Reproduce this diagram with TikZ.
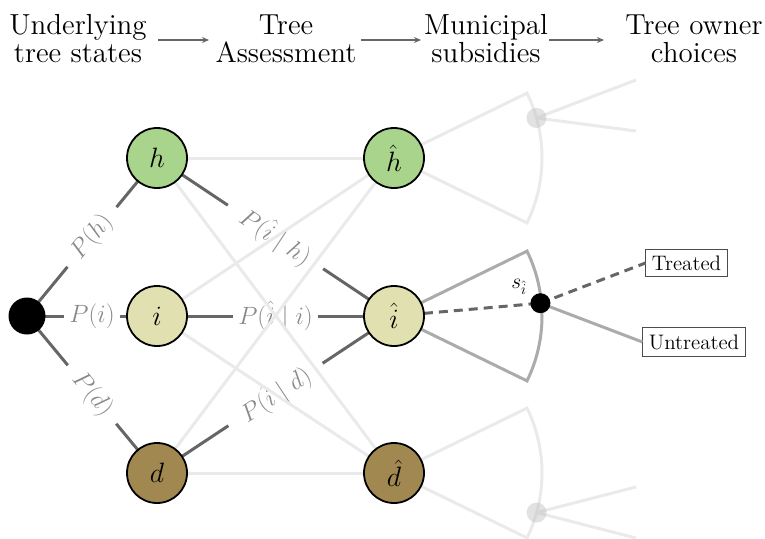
\documentclass[tikz,border=0pt]{standalone}
\usepackage{fix-cm}
\usepackage{fontspec}
\setmainfont{lmroman12-regular.otf}
\usetikzlibrary{calc,arrows.meta}
\definecolor{cH}{HTML}{A8D48C}
\definecolor{cI}{HTML}{E0E0B0}
\definecolor{cD}{HTML}{A08850}
\definecolor{dark}{HTML}{666666}
\definecolor{light}{HTML}{EAEAEA}
\definecolor{mid}{HTML}{ABABAB}
\definecolor{labgray}{HTML}{8A8A8A}
\tikzset{
  head/.style={align=center,font=\fontsize{29}{28}\selectfont},
  harrow/.style={-{Stealth[length=7pt,width=6pt]},draw=dark,line width=1.6pt},
  state/.style={circle,draw=black,line width=1.8pt,minimum size=60pt,inner sep=0pt,font=\fontsize{28}{28}\selectfont},
  darkedge/.style={draw=dark,line width=3pt},
  lightedge/.style={draw=light,line width=3pt},
  midedge/.style={draw=mid,line width=3pt},
  plab/.style={sloped,fill=white,text=labgray,inner xsep=5pt,inner ysep=3pt,font=\fontsize{25}{25}\selectfont},
  diaglab/.style={plab,inner xsep=13pt},
  diaglabw/.style={plab,inner xsep=17pt},
  choice/.style={draw=black!70,line width=1pt,inner xsep=6pt,inner ysep=6.5pt,font=\fontsize{21}{21}\selectfont},
}
\begin{document}
\begin{tikzpicture}[x=1pt,y=-1pt]
\useasboundingbox (0,0) rectangle (765,538);
% headers
\node[head] (H1) at (78,39) {Underlying\\tree states};
\node[head] (H2) at (286,39) {Tree\\Assessment};
\node[head] (H3) at (486,39) {Municipal\\subsidies};
\node[head] (H4) at (694,39) {Tree owner\\choices};
\coordinate (a1s) at (158,40); \coordinate (a1e) at (209,40);
\coordinate (a2s) at (361,40); \coordinate (a2e) at (421,40);
\coordinate (a3s) at (549,40); \coordinate (a3e) at (604,40);
\draw[harrow] (a1s) -- (a1e);
\draw[harrow] (a2s) -- (a2e);
\draw[harrow] (a3s) -- (a3e);
% node positions
\coordinate (root) at (27,316);
\coordinate (ph) at (157,158);
\coordinate (pi) at (157,316);
\coordinate (pd) at (157,473);
\coordinate (qh) at (394,158);
\coordinate (qi) at (394,316);
\coordinate (qd) at (394,473);
% fans (top and bottom, light)
\coordinate (tu) at ($(qh)+(-26:148)$);
\coordinate (tdot) at ($(qh)+(-15.7:148)$);
\coordinate (te1) at (636,80);
\coordinate (te2) at (636,131);
\draw[lightedge] (qh) -- (tu) arc[start angle=-26,end angle=26,radius=148] -- (qh);
\draw[lightedge] (tdot) -- (te1);
\draw[lightedge] (tdot) -- (te2);
\coordinate (bu) at ($(qd)+(-26:148)$);
\coordinate (bdot) at ($(qd)+(15.5:148)$);
\coordinate (be1) at (636,487);
\coordinate (be2) at (636,538);
\draw[lightedge] (qd) -- (bu) arc[start angle=-26,end angle=26,radius=148] -- (qd);
\draw[lightedge] (bdot) -- (be1);
\draw[lightedge] (bdot) -- (be2);
\node[circle,fill=black!25,opacity=0.45,minimum size=20pt,inner sep=0pt] (gdt) at (tdot) {};
\node[circle,fill=black!25,opacity=0.45,minimum size=20pt,inner sep=0pt] (gdb) at (bdot) {};
% middle fan
\coordinate (mu) at ($(qi)+(-26:148)$);
\coordinate (sd) at ($(qi)+(-5:147)$);
\draw[midedge] (qi) -- (mu) arc[start angle=-26,end angle=26,radius=148] -- (qi);
\node[font=\fontsize{21.5}{21.5}\selectfont] (slab) at (519,287) {$s_{\hat{i}}$};
\node[choice] (treated) at (686.5,263) {Treated};
\node[choice] (untreated) at (694,342) {Untreated};
\draw[draw=dark,line width=3pt,dash pattern=on 9pt off 6pt] (qi) -- (sd);
\draw[draw=dark,line width=3pt,dash pattern=on 9pt off 6pt] (sd) -- (treated.west);
\draw[midedge] (sd) -- (untreated.west);
\node[circle,fill=black,minimum size=20pt,inner sep=0pt] (sdot) at (sd) {};
% dark edges with labels
\draw[darkedge] (root) -- node[diaglab] (lh) {$P(h)$} (ph);
\draw[darkedge] (root) -- node[plab] (li) {$P(i)$} (pi);
\draw[darkedge] (root) -- node[diaglab] (ld) {$P(d)$} (pd);
\draw[darkedge] (ph) -- node[diaglabw] (lih) {$P(\hat{i}\mid h)$} (qi);
\draw[darkedge] (pi) -- node[plab] (lii) {$P(\hat{i}\mid i)$} (qi);
\draw[darkedge] (pd) -- node[diaglabw] (lid) {$P(\hat{i}\mid d)$} (qi);
% light edges
\draw[lightedge] (ph) -- (qh);
\draw[lightedge] (ph) -- (qd);
\draw[lightedge] (pi) -- (qh);
\draw[lightedge] (pi) -- (qd);
\draw[lightedge] (pd) -- (qh);
\draw[lightedge] (pd) -- (qd);
% nodes
\node[circle,fill=black,minimum size=37pt,inner sep=0pt] (r) at (root) {};
\node[state,fill=cH] (h) at (ph) {$h$};
\node[state,fill=cI] (i) at (pi) {$i$};
\node[state,fill=cD] (d) at (pd) {$d$};
\node[state,fill=cH] (hh) at (qh) {$\hat{h}$};
\node[state,fill=cI] (ih) at (qi) {$\hat{i}$};
\node[state,fill=cD] (dh) at (qd) {$\hat{d}$};
\end{tikzpicture}
\end{document}
